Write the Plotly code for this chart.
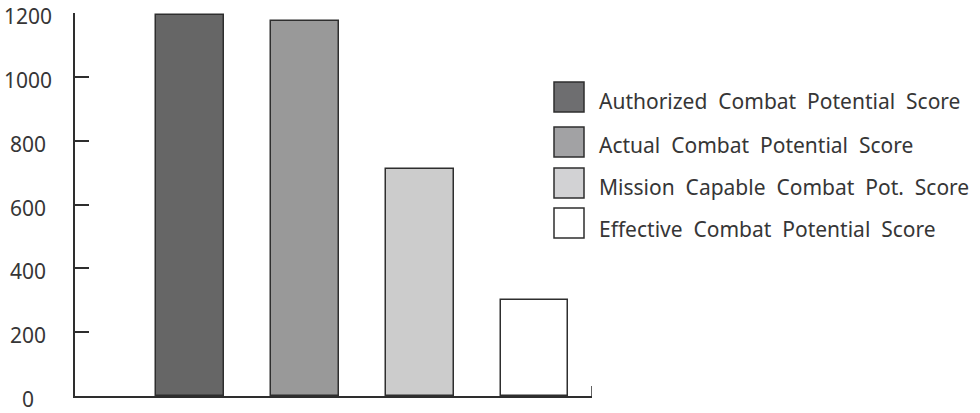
import plotly.graph_objects as go

# Combat potential scores, one bar per measure
series_names = [
    "Authorized Combat Potential Score",
    "Actual Combat Potential Score",
    "Mission Capable Combat Pot. Score",
    "Effective Combat Potential Score",
]
scores = [1195, 1175, 710, 300]
bar_colors = ["#666666", "#999999", "#cccccc", "#ffffff"]
swatch_colors = ["#6e6e70", "#a2a2a4", "#d2d2d4", "#ffffff"]
y_ticks = [0, 200, 400, 600, 800, 1000, 1200]

FONT = "Noto Sans"
TEXT = "#363636"
LINE = "#2e2e2e"

# plot-area geometry in pixels
W, H = 980, 413
ML, MR, MT, MB = 75, 388, 13, 17
PW, PH = W - ML - MR, H - MT - MB
X_RANGE = [-1, 3.5]


def px_x(p):
    return (p - ML) / PW


def px_y(p):
    return (H - MB - p) / PH


fig = go.Figure()
for i, (name, val, col) in enumerate(zip(series_names, scores, bar_colors)):
    fig.add_trace(go.Bar(
        x=[i], y=[val], name=name, width=0.59,
        marker=dict(color=col, line=dict(color=LINE, width=1.5)),
        showlegend=False,
    ))

# y tick labels, centred to the left of the axis
for v in y_ticks:
    fig.add_annotation(
        x=px_x(28), xref="paper", y=v, yref="y",
        text=str(v), showarrow=False, xanchor="center", yanchor="middle",
        yshift=-3, font=dict(family=FONT, size=21, color=TEXT),
    )

# closing tick at the right end of the category axis
fig.add_shape(
    type="line", xref="x", yref="paper",
    x0=X_RANGE[1], x1=X_RANGE[1], y0=0, y1=10 / PH,
    line=dict(color=LINE, width=1.5),
)

# legend: swatches and labels
sw_centers = [97, 142, 183, 223]
txt_centers = [101, 145, 187, 229]
for name, col, cy, ty in zip(series_names, swatch_colors, sw_centers, txt_centers):
    fig.add_shape(
        type="rect", xref="paper", yref="paper",
        x0=px_x(554), x1=px_x(584), y0=px_y(cy + 15), y1=px_y(cy - 15),
        fillcolor=col, line=dict(color=LINE, width=1.5),
    )
    fig.add_annotation(
        x=px_x(597), xref="paper", y=px_y(ty), yref="paper",
        text=name.replace(" ", "\u00a0 "), showarrow=False,
        xanchor="left", yanchor="middle",
        font=dict(family=FONT, size=21, color=TEXT),
    )

fig.update_layout(
    width=W, height=H,
    margin=dict(l=ML, r=MR, t=MT, b=MB, pad=0),
    paper_bgcolor="white", plot_bgcolor="white",
    bargap=0,
    xaxis=dict(
        range=X_RANGE, showgrid=False, zeroline=False,
        showline=True, linecolor=LINE, linewidth=1.5,
        ticks="", showticklabels=False,
    ),
    yaxis=dict(
        range=[0, 1200], showgrid=False, zeroline=False,
        showline=True, linecolor=LINE, linewidth=1.5,
        tickvals=y_ticks, ticks="inside", ticklen=14, tickwidth=1.5,
        tickcolor=LINE, showticklabels=False,
    ),
)

fig.write_html("out.html")
